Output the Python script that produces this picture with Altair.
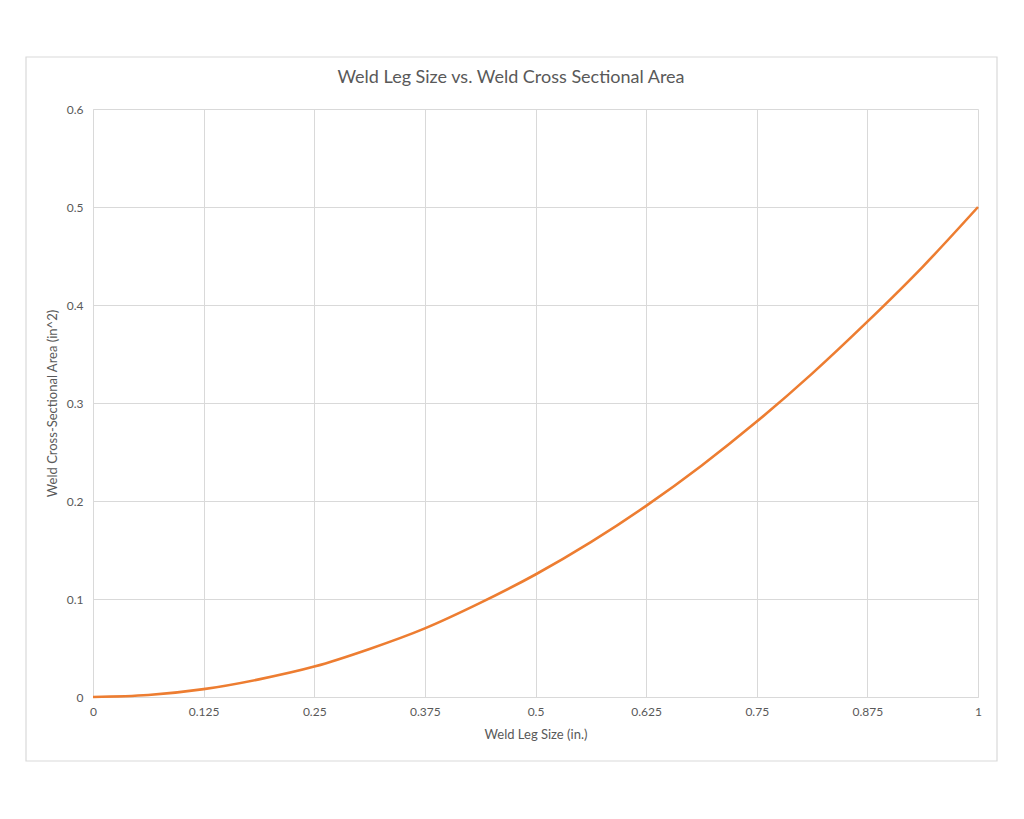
import altair as alt
import pandas as pd

leg_size = [0, 0.0625, 0.125, 0.1875, 0.25, 0.3125, 0.375, 0.4375, 0.5,
            0.5625, 0.625, 0.6875, 0.75, 0.8125, 0.875, 0.9375, 1.0]
area = [0, 0.002, 0.008, 0.018, 0.031, 0.049, 0.070, 0.096, 0.125,
        0.158, 0.195, 0.236, 0.281, 0.330, 0.383, 0.439, 0.500]
x_ticks = [0, 0.125, 0.25, 0.375, 0.5, 0.625, 0.75, 0.875, 1]
y_ticks = [0, 0.1, 0.2, 0.3, 0.4, 0.5, 0.6]
title_text = "Weld Leg Size vs. Weld Cross Sectional Area"
x_title = "Weld Leg Size (in.)"
y_title = "Weld Cross-Sectional Area (in^2)"

df = pd.DataFrame({"x": leg_size, "y": area})

W, H = 885, 588
FONT = "Lato"
GRAY = "#595959"
GRID = "#d9d9d9"

line = alt.Chart(df).mark_line(color="#ED7D31", strokeWidth=2.6, interpolate="monotone").encode(
    x=alt.X("x:Q", scale=alt.Scale(domain=[0, 1], nice=False),
            axis=alt.Axis(values=x_ticks, labelExpr="datum.value", title=x_title, grid=True,
                          gridColor=GRID, domainColor=GRID, ticks=False,
                          labelFlush=False, labelPadding=9, titlePadding=11,
                          labelFont=FONT, labelFontSize=12, labelColor=GRAY,
                          titleFont=FONT, titleFontSize=13, titleColor=GRAY,
                          titleFontWeight="normal")),
    y=alt.Y("y:Q", scale=alt.Scale(domain=[0, 0.6], nice=False),
            axis=alt.Axis(values=y_ticks, labelExpr="datum.value", title=y_title, grid=True,
                          gridColor=GRID, domainColor=GRID, ticks=False,
                          labelFlush=False, labelPadding=10, titlePadding=7,
                          labelFont=FONT, labelFontSize=12, labelColor=GRAY,
                          titleFont=FONT, titleFontSize=13, titleColor=GRAY,
                          titleFontWeight="normal")),
)

border = alt.Chart(pd.DataFrame({"a": [0]})).mark_rect(
    fill=None, stroke=GRID, strokeWidth=1.2, clip=False
).encode(
    x=alt.value(-67), x2=alt.value(904), y=alt.value(-52), y2=alt.value(652)
)

title = alt.Chart(pd.DataFrame({"t": [title_text]})).mark_text(
    font=FONT, fontSize=18, color=GRAY, align="center", baseline="middle"
).encode(
    x=alt.value(418), y=alt.value(-31), text="t:N"
)

chart = alt.layer(border, line, title).properties(
    width=W, height=H,
    padding={"left": 85, "top": 101, "right": 30, "bottom": 70},
    autosize=alt.AutoSizeParams(type="none"),
).configure_view(stroke=None)

chart.save("out.html", embed_options={"renderer": "svg", "actions": False})
